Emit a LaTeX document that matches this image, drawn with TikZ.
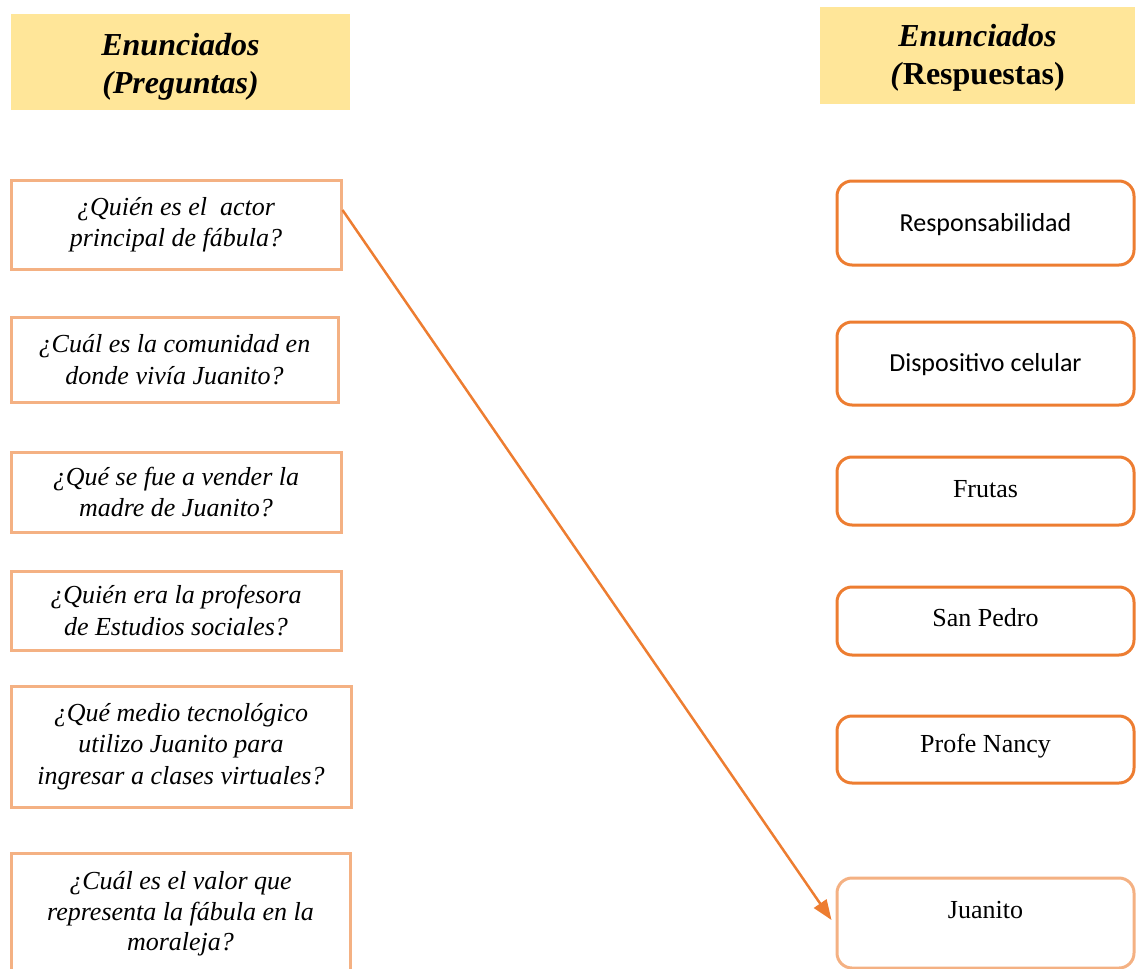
\documentclass[tikz,border=0pt]{standalone}
\usepackage{fontspec}
\setmainfont{Liberation Serif}
\newfontfamily\calibri{Carlito}
\usetikzlibrary{arrows.meta}
\definecolor{orng}{HTML}{ED7D31}
\definecolor{lorng}{HTML}{F4B183}
\definecolor{gold}{HTML}{FFE699}
\begin{document}
\begin{tikzpicture}[x=1pt,y=-1pt,
  hdr/.style={fill=gold, draw=none, inner sep=0pt},
  htxt/.style={inner sep=0pt, align=center, font=\fontsize{32}{37.5}\selectfont\bfseries},
  lbox/.style={draw=lorng, line width=3pt, inner sep=0pt, align=center, font=\fontsize{26}{31.5}\selectfont\itshape},
  rbox/.style={draw=orng, line width=3pt, rounded corners=15pt, inner sep=0pt, align=center, minimum width=297pt, font=\fontsize{26}{30}\selectfont},
  ltxt/.style={inner sep=0pt, align=center, font=\fontsize{26}{30.5}\selectfont\itshape},
  arr/.style={draw=orng, line width=2.5pt, -{Triangle[length=20pt,width=15pt]}}]
\useasboundingbox (0,0) rectangle (1136,969);
% headers
\node[hdr, minimum width=339pt, minimum height=96pt] (h1) at (180.5,62) {};
\node[htxt] (h1t) at (180.5,67) {\textit{Enunciados}\\\textit{(Preguntas)}};
\node[hdr, minimum width=315pt, minimum height=97pt] (h2) at (977.5,55.5) {};
\node[htxt] (h2t) at (977.5,58) {\textit{Enunciados}\\\textit{(}Respuestas)};
% left boxes
\node[lbox, minimum width=330pt, minimum height=89pt] (q1) at (176,224.5) {¿Quién es el\ \ actor\\principal de fábula?};
\node[lbox, minimum width=327pt, minimum height=85pt] (q2) at (174.5,359.5) {¿Cuál es la comunidad en\\donde vivía Juanito?};
\node[lbox, minimum width=330pt, minimum height=80pt] (q3) at (176,492) {¿Qué se fue a vender la\\madre de Juanito?};
\node[lbox, minimum width=330pt, minimum height=79pt] (q4) at (176,610.5) {¿Quién era la profesora\\de Estudios sociales?};
\node[lbox, minimum width=340pt, minimum height=121pt] (q5) at (181,746.5) {¿Qué medio tecnológico\\utilizo Juanito para\\ingresar a clases virtuales?};
\node[ltxt] (q6) at (180.5,914) {¿Cuál es el valor que\\representa la fábula en la\\moraleja?};
\draw[draw=lorng, line width=3pt] (11,972) -- (11,853) -- (350,853) -- (350,972);
% right boxes
\node[rbox, minimum height=84pt] (r1) at (985.5,223) {};
\node[inner sep=0pt, font=\fontsize{26}{30}\selectfont\calibri] (r1t) at (985.5,225) {Responsabilidad};
\node[rbox, minimum height=83pt] (r2) at (985.5,363.5) {};
\node[inner sep=0pt, font=\fontsize{26}{30}\selectfont\calibri] (r2t) at (985.5,365) {Dispositivo celular};
\node[rbox, minimum height=68pt] (r3) at (985.5,491) {};
\node[inner sep=0pt, font=\fontsize{26}{30}\selectfont] (r3t) at (985.5,489) {Frutas};
\node[rbox, minimum height=68pt] (r4) at (985.5,621) {};
\node[inner sep=0pt, font=\fontsize{26}{30}\selectfont] (r4t) at (985.5,618) {San Pedro};
\node[rbox, minimum height=67pt] (r5) at (985.5,749.5) {};
\node[inner sep=0pt, font=\fontsize{26}{30}\selectfont] (r5t) at (985.5,746) {Profe Nancy};
\node[rbox, draw=lorng, minimum height=90pt] (r6) at (985.5,923) {};
\node[inner sep=0pt, font=\fontsize{26}{30}\selectfont] (r6t) at (985.5,910) {Juanito};
% arrow
\draw[arr] ([yshift=14.5pt]q1.east) -- ([xshift=-4pt,yshift=3pt]r6.west);
\end{tikzpicture}
\end{document}
